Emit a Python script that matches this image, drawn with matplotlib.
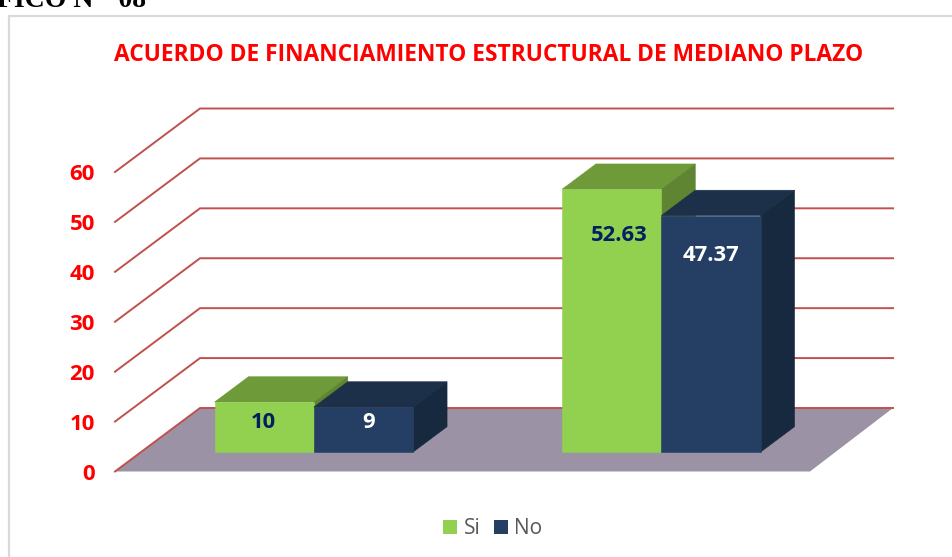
import matplotlib
matplotlib.use("Agg")
import matplotlib.pyplot as plt
from matplotlib.patches import Polygon, Patch, Rectangle

W, H = 953, 557
FONT = ["Open Sans", "DejaVu Sans"]

categories = ["A", "B"]
series_names = ["Si", "No"]
si_values = [10, 52.63]
no_values = [9, 47.37]
si_labels = ["10", "52.63"]
no_labels = ["9", "47.37"]
y_ticks = [0, 10, 20, 30, 40, 50, 60]
title = "ACUERDO DE FINANCIAMIENTO ESTRUCTURAL DE MEDIANO PLAZO"
heading = "FICO N°  08"

# label offsets from the top-centre of each bar front, in pixels
si_label_dy = [-20, -46]
si_label_dx = [-1, 8]
no_label_dy = [-15, -40]
no_label_dx = [5, 0]

fig = plt.figure(figsize=(W / 100, H / 100), dpi=100, facecolor="white")

# plot frame
fig.add_artist(Rectangle((9 / W, -0.05), 1.1, 1.05 - 16 / H, transform=fig.transFigure,
                         fill=False, edgecolor="#D9D9D9", linewidth=1.6))

L, R, B, T = 115, 810, 471.5, 172
ax = fig.add_axes([L / W, 1 - B / H, (R - L) / W, (B - T) / H])
ax.set_xlim(0, len(categories))
ax.set_ylim(0, 60)
ax.patch.set_alpha(0)
for s in ax.spines.values():
    s.set_visible(False)

px_x = len(categories) / (R - L)
px_y = 60 / (B - T)
DX = 85 * px_x
DY = 63.5 * px_y
WALL_END = 2 + 83 * px_x
BAR_W = 99.3 * px_x
D0, D1 = 0.307, 0.706


def pt(x, y, d):
    return (x + d * DX, y + d * DY)


# floor
ax.add_patch(Polygon([pt(0, 0, 0), pt(2, 0, 0), (WALL_END, DY), pt(0, 0, 1)],
                     closed=True, facecolor="#9C92A6", edgecolor="none", zorder=1, clip_on=False))

# gridlines on side wall and back wall
for v in y_ticks:
    ax.plot([0, DX, WALL_END], [v, v + DY, v + DY], color="#C0504D", lw=1.4,
            zorder=2, clip_on=False, solid_joinstyle="miter")


def face(points, color, z):
    ax.add_patch(Polygon(points, closed=True, facecolor=color, edgecolor=color,
                         linewidth=0.4, zorder=z, clip_on=False))


def bar3d(x, value, front, top, side, z):
    x1 = x + BAR_W
    face([pt(x, value, D0), pt(x1, value, D0), pt(x1, value, D1), pt(x, value, D1)], top, z)
    face([pt(x1, 0, D0), pt(x1, 0, D1), pt(x1, value, D1), pt(x1, value, D0)], side, z)
    face([pt(x, 0, D0), pt(x1, 0, D0), pt(x1, value, D0), pt(x, value, D0)], front, z)


def label(x, value, text, color, dx, dy, z):
    ax.annotate(text, xy=pt(x + BAR_W / 2, value, D0), xytext=(dx * 0.72, dy * 0.72),
                textcoords="offset points", ha="center", va="center", color=color,
                fontsize=15.8, fontweight="bold", family=FONT, zorder=z)


for i in range(len(categories)):
    c = i + 0.5 - px_x
    bar3d(c - BAR_W, si_values[i], "#92D050", "#6F9A3A", "#5F8532", 3)
    bar3d(c, no_values[i], "#243F63", "#1C3049", "#17293E", 4)
    label(c - BAR_W, si_values[i], si_labels[i], "#002060", si_label_dx[i], si_label_dy[i], 6)
    label(c, no_values[i], no_labels[i], "white", no_label_dx[i], no_label_dy[i], 6)

ax.set_xticks([])
ax.set_yticks(y_ticks)
ax.set_yticklabels([str(v) for v in y_ticks], color="#FF0000", fontsize=16,
                   fontweight="bold", family=FONT)
ax.tick_params(axis="y", length=0, pad=14.5)

fig.text(489 / W, 1 - 55 / H, title, ha="center", va="center", color="#FF0000",
         fontsize=16.4, fontweight="bold", family=FONT)
fig.text(146 / W, 1 - 7 / H, heading, ha="right", va="baseline", color="black",
         fontsize=20, fontweight="bold", family=["Liberation Serif", "DejaVu Serif"])

handles = [Patch(facecolor="#92D050", label=series_names[0]),
           Patch(facecolor="#243F63", label=series_names[1])]
fig.legend(handles=handles, loc="center", bbox_to_anchor=(493 / W, 1 - 529 / H), ncol=2,
           frameon=False, handlelength=0.67, handleheight=0.67, handletextpad=0.3,
           columnspacing=0.67, prop={"family": FONT, "size": 15}, labelcolor="#595959")

fig.savefig("out.png", dpi=100, facecolor="white")
